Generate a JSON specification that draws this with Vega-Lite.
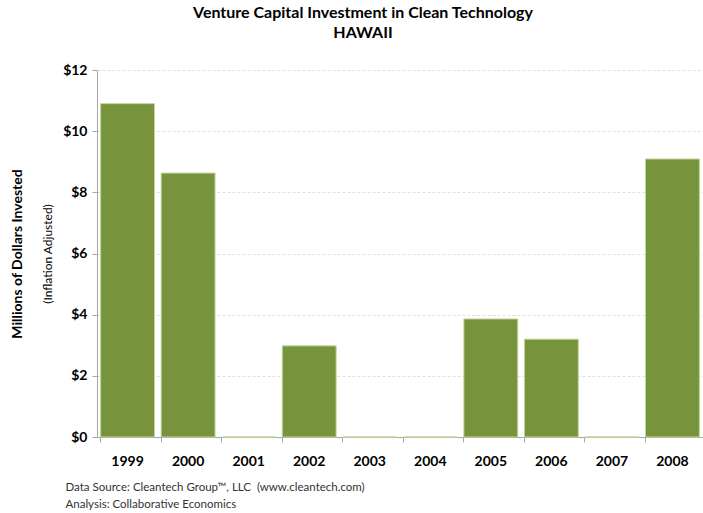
{
  "$schema": "https://vega.github.io/schema/vega-lite/v6.json",
  "width": 606,
  "height": 367,
  "autosize": {"type": "none"},
  "padding": {"left": 97, "top": 70, "right": 0, "bottom": 76},
  "background": "white",
  "config": {
    "font": "Lato",
    "view": {"stroke": null}
  },
  "title": {
    "text": ["Venture Capital Investment in Clean Technology", "HAWAII"],
    "fontSize": 16,
    "fontWeight": "bold",
    "font": "Lato",
    "color": "#000000",
    "anchor": "middle",
    "frame": "group",
    "dx": -37,
    "offset": 22,
    "lineHeight": 20
  },
  "data": {
    "values": [
      {"year": "1999", "value": 10.9},
      {"year": "2000", "value": 8.63},
      {"year": "2001", "value": 0},
      {"year": "2002", "value": 2.98},
      {"year": "2003", "value": 0},
      {"year": "2004", "value": 0},
      {"year": "2005", "value": 3.86},
      {"year": "2006", "value": 3.2},
      {"year": "2007", "value": 0},
      {"year": "2008", "value": 9.09}
    ]
  },
  "encoding": {
    "x": {
      "field": "year",
      "type": "nominal",
      "sort": null,
      "scale": {"paddingInner": 0.11, "paddingOuter": 0.06},
      "axis": {
        "labelAngle": 0,
        "labelFontSize": 14,
        "labelFontWeight": "bold",
        "labelColor": "#000000",
        "labelPadding": 12,
        "domainColor": "#a6a6a6",
        "tickColor": "#a6a6a6",
        "tickSize": 5,
        "bandPosition": 0,
        "title": ["Data Source: Cleantech Group™, LLC\u00a0\u00a0(www.cleantech.com)", "Analysis: Collaborative Economics"],
        "titleFontSize": 11.5,
        "titleFontWeight": "normal",
        "titleColor": "#333333",
        "titleAnchor": "start",
        "titleAlign": "left",
        "titleBaseline": "top",
        "titleX": -32,
        "titleY": 44,
        "titleLineHeight": 17
      }
    }
  },
  "layer": [
    {
      "mark": {"type": "bar", "color": "#77933C", "stroke": "#c3d69b", "strokeWidth": 1},
      "encoding": {
        "y": {
          "field": "value",
          "type": "quantitative",
          "scale": {"domain": [0, 12]},
          "axis": {
            "values": [0, 2, 4, 6, 8, 10, 12],
            "format": "$,.0f",
            "labelFontSize": 14,
            "labelFontWeight": "bold",
            "labelColor": "#000000",
            "labelPadding": 5,
            "tickSize": 5,
            "tickColor": "#a6a6a6",
            "domainColor": "#a6a6a6",
            "grid": true,
            "gridColor": "#e0e0e0",
            "gridDash": [3, 2],
            "title": "(Inflation Adjusted)",
            "titleFontSize": 12,
            "titleFontWeight": "normal",
            "titleColor": "#000000",
            "titlePadding": 8
          }
        }
      }
    },
    {
      "mark": {"type": "bar", "opacity": 0},
      "encoding": {
        "y": {
          "field": "value",
          "type": "quantitative",
          "scale": {"domain": [0, 12]},
          "axis": {
            "orient": "left",
            "labels": false,
            "ticks": false,
            "domain": false,
            "grid": false,
            "title": "Millions of Dollars Invested",
            "titleFontSize": 14,
            "titleFontWeight": "bold",
            "titleColor": "#000000",
            "titlePadding": 73
          }
        }
      }
    }
  ],
  "resolve": {"axis": {"y": "independent"}}
}
